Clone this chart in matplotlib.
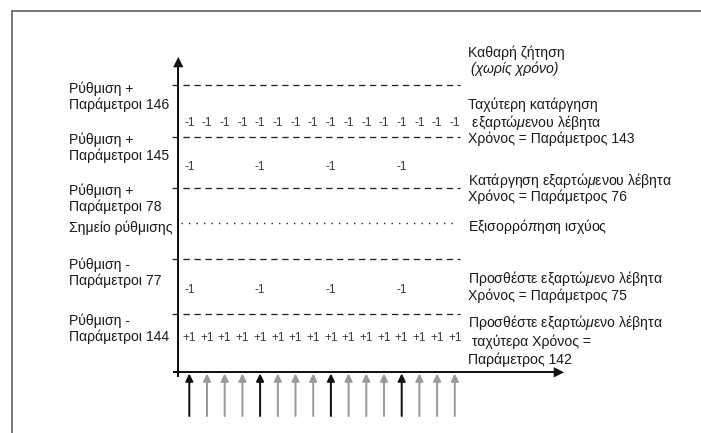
import matplotlib
matplotlib.use("Agg")
import matplotlib.pyplot as plt
from matplotlib import font_manager

# ---------------- data ----------------
n_slots = 16
major_arrow = [1, 0, 0, 0, 1, 0, 0, 0, 1, 0, 0, 0, 1, 0, 0, 0]
fast_remove = [-1, -1, -1, -1, -1, -1, -1, -1, -1, -1, -1, -1, -1, -1, -1, -1]
remove = [-1, None, None, None, -1, None, None, None, -1, None, None, None, -1, None, None, None]
add = [-1, None, None, None, -1, None, None, None, -1, None, None, None, -1, None, None, None]
fast_add = [+1, +1, +1, +1, +1, +1, +1, +1, +1, +1, +1, +1, +1, +1, +1, +1]

level_labels = [
    ["Ρύθμιση +", "Παράμετροι 146"],
    ["Ρύθμιση +", "Παράμετροι 145"],
    ["Ρύθμιση +", "Παράμετροι 78"],
    ["Σημείο ρύθμισης"],
    ["Ρύθμιση -", "Παράμετροι 77"],
    ["Ρύθμιση -", "Παράμετροι 144"],
]
level_styles = ["dashed", "dashed", "dashed", "dotted", "dashed", "dashed"]

right_labels = [
    ["Καθαρή ζήτηση", "(χωρίς χρόνο)"],
    ["Ταχύτερη κατάργηση", " εξαρτώ$\\mathit{μ}$ενου λέβητα", "Χρόνος = Παράμετρος 143"],
    ["Κατάργηση εξαρτώ$\\mathit{μ}$ενου λέβητα", "Χρόνος = Παράμετρος 76"],
    ["Εξισορρό$\\mathit{π}$ηση ισχύος"],
    ["Προσθέστε εξαρτώ$\\mathit{μ}$ενο λέβητα", "Χρόνος = Παράμετρος 75"],
    ["Προσθέστε εξαρτώ$\\mathit{μ}$ενο λέβητα", " ταχύτερα Χρόνος =", "Παράμετρος 142"],
]
right_italic = [[False, True], [False, False, False], [False, False], [False], [False, False], [False, False, False]]

# ---------------- layout ----------------
names = {f.name for f in font_manager.fontManager.ttflist}
main_font = "Liberation Sans Narrow" if "Liberation Sans Narrow" in names else "Liberation Sans"
plt.rcParams["font.family"] = [main_font, "DejaVu Sans"]
plt.rcParams["mathtext.fontset"] = "custom"
plt.rcParams["mathtext.rm"] = main_font
plt.rcParams["mathtext.it"] = main_font + ":italic"
plt.rcParams["lines.scale_dashes"] = False

W, H = 701, 433
fig = plt.figure(figsize=(W / 100, H / 100), dpi=100)
ax = fig.add_axes([0, 0, 1, 1])
ax.set_xlim(0, W)
ax.set_ylim(H, 0)
ax.axis("off")

px = 0.72  # points per pixel
TXT = "#1a1a1a"
FS = 10.1
FS_SMALL = 8.6

# frame (top and left)
ax.plot([11.5, 11.5, W], [H, 11, 11], color="#7a7a7a", lw=2 * px, solid_joinstyle="miter")

# axes
x_axis_y = 372.3
y_axis_x = 178.3
ax.plot([y_axis_x, y_axis_x], [376, 66], color="#111111", lw=2 * px)
ax.annotate("", xy=(y_axis_x, 57), xytext=(y_axis_x, 70),
            arrowprops=dict(arrowstyle="-|>,head_length=0.4,head_width=0.2", mutation_scale=18,
                            color="#111111", lw=0.1, shrinkA=0, shrinkB=0))
ax.plot([174, 553], [x_axis_y, x_axis_y], color="#111111", lw=2 * px)
ax.annotate("", xy=(564, x_axis_y), xytext=(550, x_axis_y),
            arrowprops=dict(arrowstyle="-|>,head_length=0.4,head_width=0.2", mutation_scale=18,
                            color="#111111", lw=0.1, shrinkA=0, shrinkB=0))

# slot positions
x0, dx = 189.3, 17.7
slot_x = [x0 + i * dx for i in range(n_slots)]

# level lines and labels
level_y = [85, 137, 188, 223, 259, 314]
label_first_y = [89, 140, 191, 228, 265, 321]
for y, style, labs, ly in zip(level_y, level_styles, level_labels, label_first_y):
    if style == "dashed":
        ax.plot([172, 460], [y, y], color="#222222", lw=1.3 * px, dashes=(4.6, 3.3))
    else:
        ax.plot([181, 456], [y, y], color="#222222", lw=1.4 * px, dashes=(1.0, 4.4))
    for k, t in enumerate(labs):
        ax.text(69, ly + k * 15.5, t, fontsize=FS, color=TXT, ha="left", va="center")

# -1 / +1 rows
rows = [(fast_remove, 123), (remove, 167), (add, 290), (fast_add, 338)]
for vals, y in rows:
    for xx, v in zip(slot_x, vals):
        if v is None:
            continue
        s = "+1" if v > 0 else "-1"
        ax.text(xx, y, s, fontsize=FS_SMALL, color="#3a3a3a", ha="center", va="center")

# time arrows
for xx, m in zip(slot_x, major_arrow):
    c = "#111111" if m else "#9a9a9a"
    ax.annotate("", xy=(xx, 373.5), xytext=(xx, 416),
                arrowprops=dict(arrowstyle="-|>,head_length=0.4,head_width=0.2", mutation_scale=11,
                                color=c, lw=2 * px, shrinkA=0, shrinkB=0))

# right-side labels
right_y = [[53, 69], [105, 122, 139], [180, 197], [227], [278, 296], [323, 342, 360]]
for labs, ys, its in zip(right_labels, right_y, right_italic):
    for t, y, it in zip(labs, ys, its):
        xx = 471 if it else 468
        ax.text(xx, y, t, fontsize=FS, color=TXT, ha="left", va="center",
                style="italic" if it else "normal")

fig.savefig("out.png", dpi=100)
